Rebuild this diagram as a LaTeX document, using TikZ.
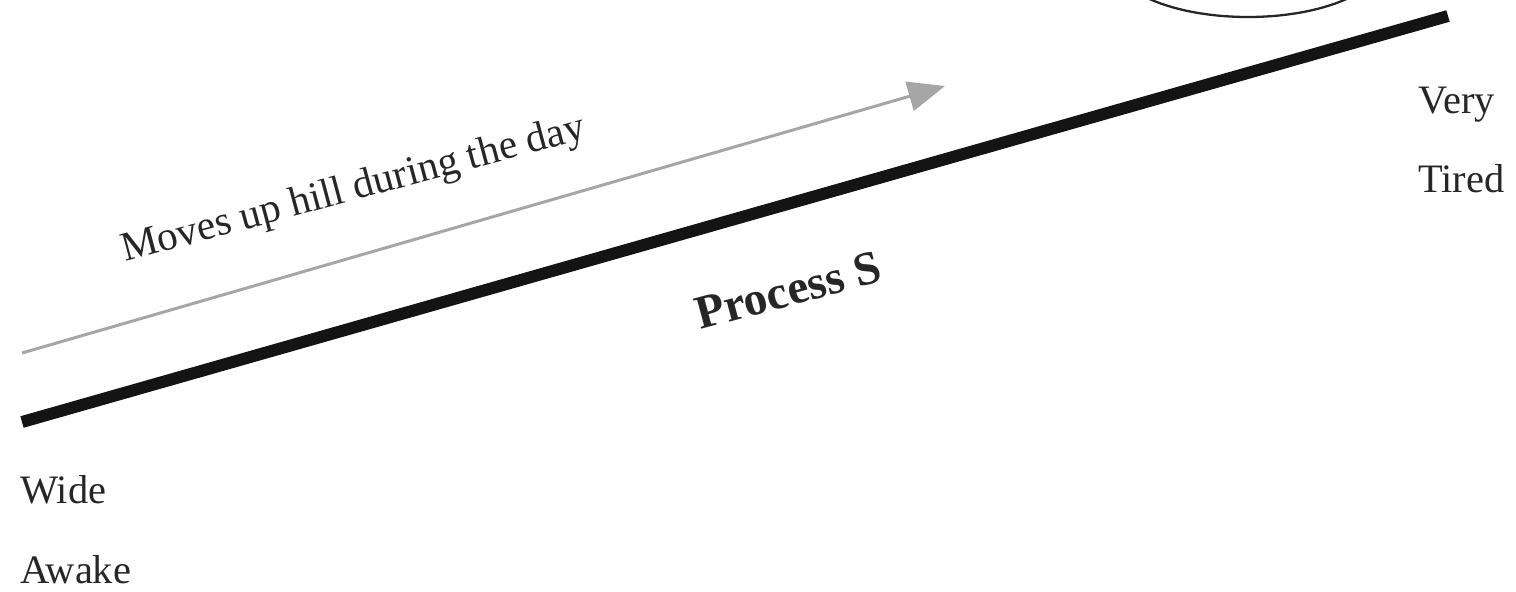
\documentclass[tikz,border=0pt]{standalone}
\usepackage{fontspec}
\setmainfont{Liberation Serif}
\usetikzlibrary{arrows.meta, positioning}
\tikzset{
  endlabel/.style={
    anchor=base west, inner sep=0pt, text=black!85,
    font=\fontsize{23}{28}\selectfont
  },
  slopetext/.style={
    anchor=base west, inner sep=0pt, rotate=15, text=black!85
  },
  hill/.style={line width=6.8pt, draw=black!92},
  drift/.style={-{Triangle[length=21pt,width=17pt]}, line width=1.7pt, draw=black!35, fill=black!35},
  cycle/.style={line width=1.3pt, draw=black!85}
}

\begin{document}
\begin{tikzpicture}[x=0.02cm, y=-0.02cm]
  \useasboundingbox (0,0) rectangle (1516,592);
  \clip (0,0) rectangle (1516,592);

  % the hill of sleep pressure
  \coordinate (low) at (22,422);
  \coordinate (high) at (1448,16);
  \draw[hill] (low) -- (high);

  % direction during the day
  \coordinate (dawn) at (22,353);
  \coordinate (dusk) at (945,86);
  \draw[drift] (dawn) -- (dusk);

  % loop at the top, cut by the page
  \draw[cycle] (1248,-40) ellipse [x radius=135, y radius=57];

  \node[slopetext, font=\fontsize{23.5}{28}\selectfont] (moves) at (125,262) {Moves up hill during the day};
  \node[slopetext, font=\fontsize{27}{32}\selectfont\bfseries] (procS) at (700,330) {Process S};

  \node[endlabel] (very) at (1418,113) {Very};
  \node[endlabel] (tired) at (1418,192) {Tired};
  \node[endlabel] (wide) at (20,503) {Wide};
  \node[endlabel] (awake) at (20,583) {Awake};
\end{tikzpicture}
\end{document}
